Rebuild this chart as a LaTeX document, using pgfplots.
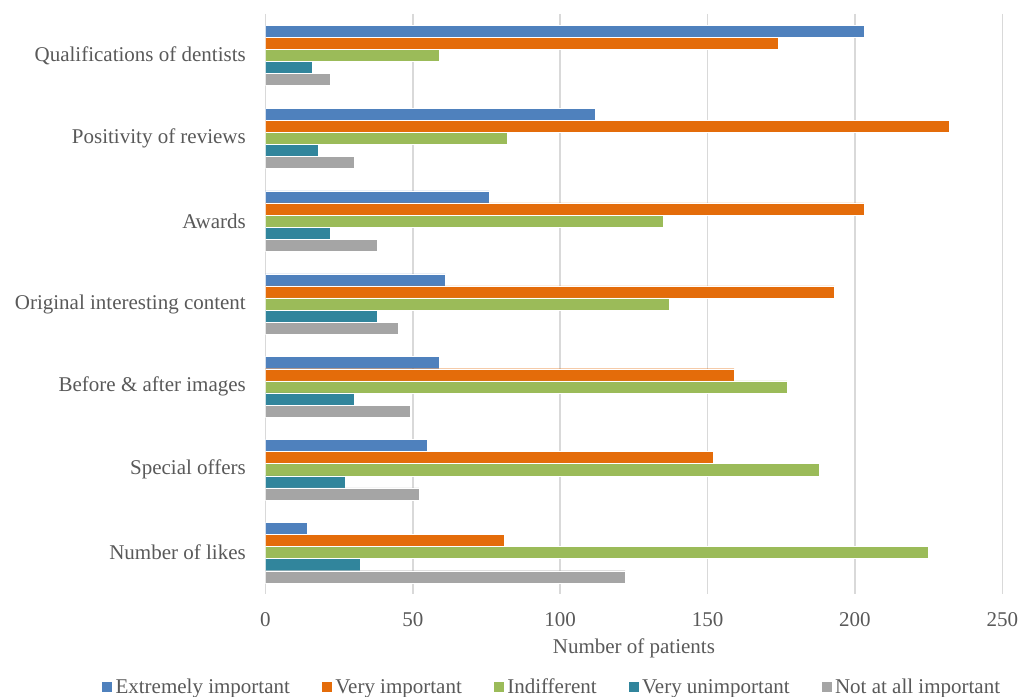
\documentclass[border=0pt]{standalone}
\usepackage{pgfplots}
\pgfplotsset{compat=1.18}
\usepackage{pgfplotstable}
\usepackage{fontspec}
\setmainfont{Liberation Serif}

\definecolor{cBlue}{HTML}{4F81BD}
\definecolor{cOrange}{HTML}{E46C0A}
\definecolor{cGreen}{HTML}{9BBB59}
\definecolor{cTeal}{HTML}{31859C}
\definecolor{cGray}{HTML}{A5A5A5}
\definecolor{txt}{HTML}{595959}
\definecolor{grd}{HTML}{D9D9D9}

% idx 0 = top category
\pgfplotstableread{
idx ext very indiff vunimp notall
0 203 174 59 16 22
1 112 232 82 18 30
2 76 203 135 22 38
3 61 193 137 38 45
4 59 159 177 30 49
5 55 152 188 27 52
6 14 81 225 32 122
}\patients

\begin{document}
\begin{tikzpicture}
\begin{axis}[
  scale only axis,
  width=736.8pt, height=580pt,
  xmin=0, xmax=250,
  ymin=-0.5, ymax=6.5,
  y dir=reverse,
  xbar,
  bar width=12.1pt,
  axis line style={draw=none},
  major tick length=0pt,
  xtick={0,50,...,250},
  ytick={0,...,6},
  yticklabels={Qualifications of dentists,Positivity of reviews,Awards\ ,Original interesting content,Before \& after images,Special offers,Number of likes},
  xmajorgrids,
  grid style={grd, line width=1.5pt},
  /pgf/number format/assume math mode=true,
  tick label style={font=\fontsize{21}{24}\selectfont, text=txt},
  x tick label style={anchor=center, yshift=-26pt},
  y tick label style={anchor=east, inner sep=0pt, xshift=-19.5pt},
  xlabel={Number of patients},
  xlabel style={font=\fontsize{21}{24}\selectfont, text=txt, at={(axis description cs:0.5,-0.0931)}, anchor=center},
  legend columns=5,
  legend style={draw=none, at={(axis description cs:-0.2233,-0.160)}, anchor=west,
    font=\fontsize{21}{24}\selectfont, text=txt, inner sep=0pt,
    nodes={inner sep=3pt},
    /tikz/every even column/.append style={column sep=28pt}},
  legend image code/.code={\fill[#1] (0pt,-5.5pt) rectangle (11pt,5.5pt);},
  every axis plot/.append style={draw=white, line width=0.4pt},
]
\addplot[fill=cBlue,   bar shift=24.2pt]  table[x=ext,    y=idx] {\patients};
\addplot[fill=cOrange, bar shift=12.1pt]  table[x=very,   y=idx] {\patients};
\addplot[fill=cGreen,  bar shift=0pt]     table[x=indiff, y=idx] {\patients};
\addplot[fill=cTeal,   bar shift=-12.1pt] table[x=vunimp, y=idx] {\patients};
\addplot[fill=cGray,   bar shift=-24.2pt] table[x=notall, y=idx] {\patients};
\legend{Extremely important,Very important,Indifferent,Very unimportant,Not at all important}
\coordinate (bl) at (axis description cs:0,0);
\coordinate (tr) at (axis description cs:1,1);
\end{axis}
\pgfresetboundingbox
\path ([shift={(-265.5pt,-103pt)}]bl) rectangle ([shift={(16.7pt,14pt)}]tr);
\end{tikzpicture}
\end{document}
